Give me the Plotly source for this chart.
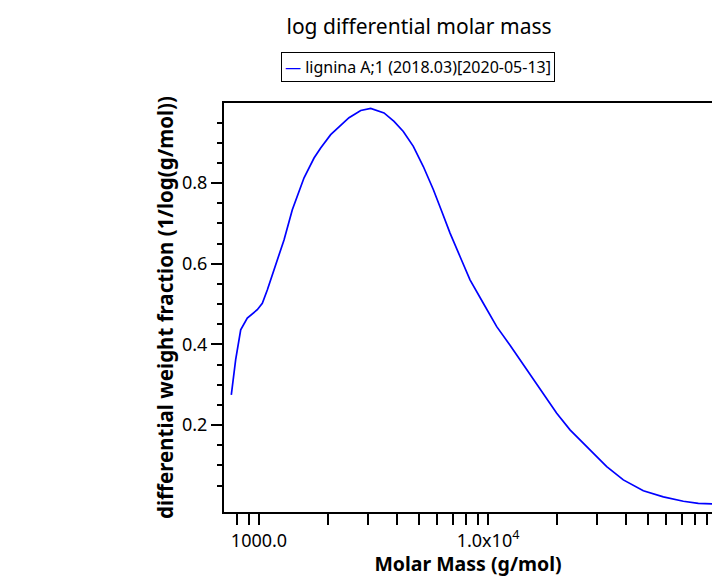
import plotly.graph_objects as go

# Data
molar_mass = [757, 791, 832, 889, 983, 1034, 1087, 1183, 1286, 1398, 1573, 1739, 1859,
              2056, 2472, 2781, 3074, 3515, 3887, 4267, 4719, 5218, 5769, 6278, 6826,
              7546, 8344, 9539, 10914, 12478, 14757, 17444, 19953, 22807, 26977, 32983,
              38979, 47664, 58285, 71264, 82836, 95108, 110000]
weight_fraction = [0.275, 0.362, 0.436, 0.465, 0.486, 0.502, 0.535, 0.597, 0.659, 0.734,
                   0.813, 0.862, 0.887, 0.920, 0.962, 0.980, 0.985, 0.974, 0.953, 0.928,
                   0.891, 0.841, 0.784, 0.730, 0.676, 0.618, 0.560, 0.502, 0.444, 0.398,
                   0.337, 0.279, 0.229, 0.188, 0.146, 0.097, 0.064, 0.037, 0.022, 0.011,
                   0.006, 0.004, 0.003]

series_name = "lignina A;1 (2018.03)[2020-05-13]"

x_tickvals = [1000, 10000]
x_ticktext = ["1000.0", "1.0x10<sup>4</sup>"]
x_minor_vals = [800, 900, 2000, 3000, 4000, 5000, 6000, 7000, 8000, 9000,
                20000, 30000, 40000, 50000, 60000, 70000, 80000, 90000]
y_tickvals = [0.2, 0.4, 0.6, 0.8]
y_ticktext = ["0.2", "0.4", "0.6", "0.8"]
y_minor_vals = [0.05, 0.1, 0.15, 0.25, 0.3, 0.35, 0.45, 0.5, 0.55, 0.65, 0.7, 0.75,
                0.85, 0.9, 0.95]

FONT = "Noto Sans"

fig = go.Figure()
fig.add_trace(go.Scatter(
    x=molar_mass, y=weight_fraction, mode="lines", name=series_name,
    line=dict(color="#0000ff", width=1.7), showlegend=False,
))

fig.update_layout(
    width=712, height=577,
    margin=dict(l=224, r=0, t=103, b=65),
    paper_bgcolor="white", plot_bgcolor="white",
    font=dict(family=FONT, color="#000000", size=18),
    title=dict(text="log differential molar mass", x=419 / 712, xanchor="center",
               y=1 - 27 / 577, yanchor="middle", font=dict(size=21, family=FONT)),
    xaxis=dict(
        type="log", range=[2.8472, 4.978],
        showline=True, linecolor="black", linewidth=2, mirror=True,
        ticks="outside", ticklen=11, tickwidth=1.5, tickcolor="black",
        tickvals=x_tickvals, ticktext=x_ticktext,
        minor=dict(tickvals=x_minor_vals, ticks="outside", ticklen=11, tickwidth=1.5,
                   tickcolor="black", showgrid=False),
        tickfont=dict(size=18, family=FONT),
        showgrid=False, zeroline=False,
        title=dict(text="<b>Molar Mass (g/mol)</b>", font=dict(size=19.5, family=FONT),
                   standoff=8),
    ),
    yaxis=dict(
        range=[-0.0156, 0.9985],
        showline=True, linecolor="black", linewidth=2,
        ticks="outside", ticklen=11, tickwidth=1.5, tickcolor="black",
        tickvals=y_tickvals, ticktext=y_ticktext,
        minor=dict(tickvals=y_minor_vals, ticks="outside", ticklen=5, tickwidth=1.5,
                   tickcolor="black", showgrid=False),
        tickfont=dict(size=18, family=FONT),
        showgrid=False, zeroline=False,
        title=dict(text="<b>differential weight fraction (1/log(g/mol))</b>",
                   font=dict(size=20.5, family=FONT), standoff=3),
    ),
)

# Legend box drawn above the plot
fig.add_annotation(
    xref="paper", yref="paper", x=(417.5 - 224) / 488, y=1 + (103 - 66.5) / 409,
    xanchor="center", yanchor="middle", showarrow=False,
    text="<span style='color:#0000ff'>\u2014</span> " + series_name,
    font=dict(size=16, family=FONT, color="black"),
    bordercolor="black", borderwidth=1, borderpad=3, bgcolor="white",
)

fig.write_html("out.html")
